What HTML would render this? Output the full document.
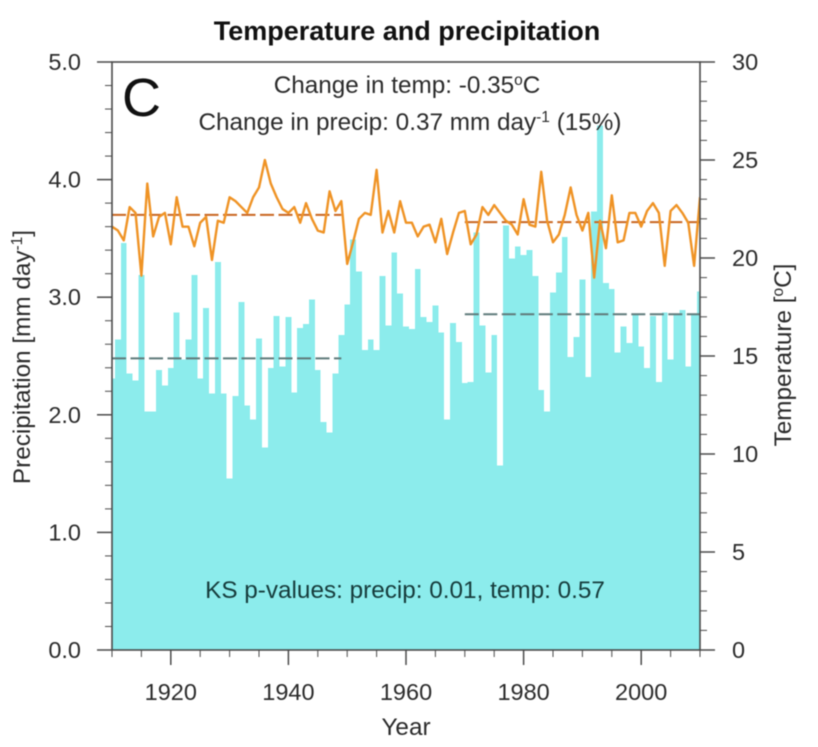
<!DOCTYPE html>
<html>
<head>
<meta charset="utf-8">
<title>Temperature and precipitation</title>
<style>
html,body{margin:0;padding:0;background:#fff;width:818px;height:747px;overflow:hidden}
svg{display:block;font-family:"Liberation Sans",sans-serif;fill:#2b2b2b}
</style>
</head>
<body>
<svg id="chart" width="818" height="747" viewBox="0 0 818 747">
  <defs><clipPath id="plot-clip"><rect x="112" y="62" width="588" height="588"/></clipPath></defs>
  <g id="blur-layer" style="filter:blur(0.45px)">
    <g id="bars" clip-path="url(#plot-clip)"></g>
    <g id="means" clip-path="url(#plot-clip)"></g>
    <path id="temp-line" clip-path="url(#plot-clip)" fill="none" stroke="#ef9325" stroke-width="2.4" stroke-linejoin="round"></path>
    <g id="axes"></g>
    <text x="407" y="40" text-anchor="middle" font-size="27" font-weight="bold" fill="#111">Temperature and precipitation</text>
    <text x="122" y="116" font-size="54" fill="#111">C</text>
    <text x="407" y="93" text-anchor="middle" font-size="24.3">Change in temp: -0.35<tspan dy="-8" font-size="15.5">o</tspan><tspan dy="8">C</tspan></text>
    <text x="410" y="130" text-anchor="middle" font-size="24.3">Change in precip: 0.37 mm day<tspan dy="-8" font-size="15.5">-1</tspan><tspan dy="8"> (15%)</tspan></text>
    <text x="405" y="598" text-anchor="middle" font-size="24.3" fill="#163c3c">KS p-values: precip: 0.01, temp: 0.57</text>
    <text x="406" y="735" text-anchor="middle" font-size="24.3">Year</text>
    <text transform="translate(30,357) rotate(-90)" text-anchor="middle" font-size="24.3">Precipitation [mm day<tspan dy="-8" font-size="15.5">-1</tspan><tspan dy="8">]</tspan></text>
    <text transform="translate(791,355) rotate(-90)" text-anchor="middle" font-size="24.3">Temperature [<tspan dy="-8" font-size="15.5">o</tspan><tspan dy="8">C]</tspan></text>
  </g>
</svg>
<script>
const firstYear = 1910;
const precip = [
2.31,2.64,3.46,2.35,2.29,3.19,2.03,2.03,2.38,2.25,
2.40,2.87,2.47,2.64,3.19,2.31,2.91,2.18,3.30,2.18,
1.46,2.16,2.96,2.08,1.96,2.65,1.72,2.40,2.84,2.41,
2.83,2.19,2.74,2.77,2.98,2.38,1.94,1.85,2.35,2.68,
2.94,3.49,3.22,2.55,2.64,2.55,3.18,2.76,3.38,3.03,
2.75,2.73,3.24,2.83,2.79,2.93,2.70,1.96,2.78,2.62,
2.27,2.28,3.55,2.76,2.36,2.68,1.57,3.61,3.33,3.43,
3.36,3.40,3.18,2.21,2.03,3.04,3.21,3.51,2.49,2.66,
3.15,2.32,3.73,4.46,3.12,3.07,2.53,2.75,2.61,2.85,
2.58,2.40,2.84,2.28,2.87,2.47,2.86,2.89,2.41,2.86,
3.05];
const temperature = [
21.6,21.4,20.9,22.6,22.3,19.1,23.8,21.1,22.1,22.3,
20.7,23.1,21.6,21.6,20.6,21.8,22.1,19.9,21.9,21.8,
23.1,22.9,22.6,22.3,23.1,23.6,25.0,23.8,23.1,22.5,
22.3,22.6,21.8,22.8,22.0,21.4,21.3,23.4,22.4,22.9,
19.7,20.8,22.0,22.3,22.2,24.5,21.3,22.4,21.3,22.9,
21.8,21.8,21.1,21.6,21.7,20.8,22.0,20.2,21.3,22.3,
22.4,20.7,21.2,22.6,22.2,22.7,22.3,21.9,21.7,21.2,
23.0,21.7,21.6,24.4,21.9,20.8,21.2,22.2,23.6,22.2,
21.4,22.3,19.0,21.9,20.5,23.2,20.8,20.9,22.3,22.3,
21.6,22.4,22.8,22.3,19.6,22.4,22.7,22.3,21.8,19.6,
23.1];
const periods = [[1910,1949],[1970,2010]];
const precipMeans = [2.48,2.855];
const tempMeans = [22.2,21.83];
const xTickLabels = [1920,1940,1960,1980,2000];
const precipTickLabels = ["0.0","1.0","2.0","3.0","4.0","5.0"];
const tempTickLabels = ["0","5","10","15","20","25","30"];

const NS = "http://www.w3.org/2000/svg";
const L = 112, R = 700, T = 62, B = 650;
const xScale = y => L + (y - 1910) * (R - L) / 100;
const pScale = v => B - v * (B - T) / 5;
const tScale = v => B - v * (B - T) / 30;
const axisColor = "#4a4a4a";

function make(tag, attrs, parent, name) {
  const el = document.createElementNS(NS, tag);
  for (const k in attrs) el.setAttribute(k, attrs[k]);
  
  
  parent.appendChild(el);
  return el;
}

const barW = (R - L) / 100;
const barsG = document.getElementById("bars");
precip.forEach((v, i) => {
  const x = xScale(firstYear + i);
  make("rect", {x: x - barW / 2, y: pScale(v), width: barW, height: B - pScale(v), fill: "#8cecec", "shape-rendering": "crispEdges"}, barsG, "bar-" + (firstYear + i));
});

const line = document.getElementById("temp-line");
line.setAttribute("d", temperature.map((v, i) => (i ? "L" : "M") + xScale(firstYear + i).toFixed(2) + " " + tScale(v).toFixed(2)).join(" "));

const meansG = document.getElementById("means");
periods.forEach((p, i) => {
  make("line", {x1: xScale(p[0]), x2: xScale(p[1]), y1: pScale(precipMeans[i]), y2: pScale(precipMeans[i]), stroke: "#5f7a7a", "stroke-width": 2, "stroke-dasharray": "14 4.5"}, meansG, "precip-mean-line-" + i);
  make("line", {x1: xScale(p[0]), x2: xScale(p[1]), y1: tScale(tempMeans[i]), y2: tScale(tempMeans[i]), stroke: "#c9651f", "stroke-width": 2, "stroke-dasharray": "14 4.5"}, meansG, "temp-mean-line-" + i);
});

const ax = document.getElementById("axes");
make("rect", {x: L, y: T, width: R - L, height: B - T, fill: "none", stroke: axisColor, "stroke-width": 1.6}, ax, "plot-frame");

for (let y = 1910; y <= 2010; y += 5) {
  const major = y % 20 === 0;
  make("line", {x1: xScale(y), x2: xScale(y), y1: B, y2: B + (major ? 15 : 7), stroke: axisColor, "stroke-width": major ? 1.5 : 1}, ax, "x-tick");
}
xTickLabels.forEach(y => {
  const t = make("text", {x: xScale(y), y: 700, "text-anchor": "middle", "font-size": 23.5}, ax, "x-tick-label");
  t.textContent = y;
});

for (let k = 0; k <= 25; k++) {
  const v = k / 5;
  const major = k % 5 === 0;
  make("line", {x1: L, x2: L - (major ? 15 : 7), y1: pScale(v), y2: pScale(v), stroke: axisColor, "stroke-width": major ? 1.5 : 1}, ax, "left-tick");
}
precipTickLabels.forEach(s => {
  const t = make("text", {x: 81, y: pScale(parseFloat(s)) + 8, "text-anchor": "end", "font-size": 23.5}, ax, "left-tick-label");
  t.textContent = s;
});

for (let k = 0; k <= 30; k++) {
  const major = k % 5 === 0;
  make("line", {x1: R, x2: R + (major ? 15 : 7), y1: tScale(k), y2: tScale(k), stroke: axisColor, "stroke-width": major ? 1.5 : 1}, ax, "right-tick");
}
tempTickLabels.forEach(s => {
  const t = make("text", {x: 732, y: tScale(parseFloat(s)) + 8, "text-anchor": "start", "font-size": 23.5}, ax, "right-tick-label");
  t.textContent = s;
});
</script>
</body>
</html>
